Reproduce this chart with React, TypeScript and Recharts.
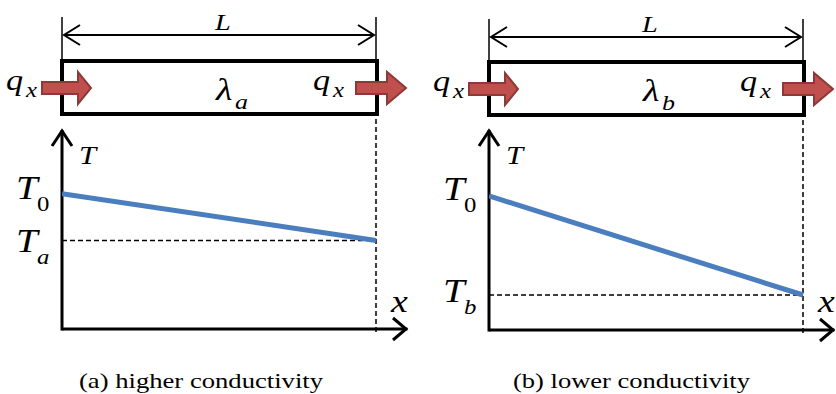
import React from 'react';
import { LineChart, Line, XAxis, YAxis, ReferenceLine } from 'recharts';

// x / L positions along the rod and the temperature at those points (arbitrary units)
const positions = [0, 1];
const tempHigh = [68, 44.5];
const tempLow = [67, 17.5];

const captions = ['(a) higher conductivity', '(b) lower conductivity'];
const captionWidths = [244, 237];
const lambdaSubs = ['a', 'b'];
const endSubs = ['a', 'b'];

const W = 836;
const H = 394;
const CHART_W = 420;
const PLOT_LEFT = 62;
const PLOT_TOP = 130;
const X_MAX = 1.1;
const Y_MAX = 100;

const serif = 'Liberation Serif, DejaVu Serif, serif';
const ARROW_FILL = '#C0504D';
const ARROW_EDGE = '#8C3A38';
const LINE_BLUE = '#4A7EBF';
const STRETCH = 1.18; // the source figure is a little wider than tall

const panels = [
  { ox: 0, oy: 0, axisY: 329, temps: tempHigh },
  { ox: 427, oy: 2, axisY: 330, temps: tempLow },
];

function PanelChart({ idx }: { idx: number }) {
  const p = panels[idx];
  const data = positions.map((x, i) => ({ x, T: p.temps[i] }));
  const plotW = 314 * X_MAX;
  const end = p.temps[p.temps.length - 1];
  return (
    <div style={{ position: 'absolute', left: p.ox, top: 0 }}>
      <LineChart
        width={CHART_W}
        height={H}
        data={data}
        margin={{ left: PLOT_LEFT, top: PLOT_TOP, right: CHART_W - PLOT_LEFT - plotW, bottom: H - p.axisY }}
      >
        <XAxis dataKey="x" type="number" domain={[0, X_MAX]} allowDataOverflow hide />
        <YAxis type="number" domain={[0, Y_MAX]} allowDataOverflow hide />
        {/* axes */}
        <ReferenceLine
          segment={[{ x: 0, y: 0 }, { x: X_MAX, y: 0 }]}
          stroke="#000"
          strokeWidth={3}
          ifOverflow="visible"
        />
        <ReferenceLine
          segment={[{ x: 0, y: -0.75 }, { x: 0, y: Y_MAX }]}
          stroke="#000"
          strokeWidth={3}
          ifOverflow="visible"
        />
        <ReferenceLine
          segment={[{ x: 0, y: end }, { x: 1, y: end }]}
          stroke="#000"
          strokeWidth={1.5}
          strokeDasharray="5 3"
          ifOverflow="visible"
        />
        <ReferenceLine
          segment={[{ x: 1, y: -1.5 }, { x: 1, y: 107 }]}
          stroke="#000"
          strokeWidth={1.5}
          strokeDasharray="5 3"
          ifOverflow="visible"
        />
        <Line
          type="linear"
          dataKey="T"
          stroke={LINE_BLUE}
          strokeWidth={5}
          dot={false}
          activeDot={false}
          isAnimationActive={false}
        />
      </LineChart>
    </div>
  );
}

function Txt({ x, y, size, italic = true, anchor = 'start', children }: {
  x: number; y: number; size: number; italic?: boolean; anchor?: string; children: React.ReactNode;
}) {
  return (
    <text
      transform={`translate(${x},${y}) scale(${STRETCH},1)`}
      fontFamily={serif}
      fontSize={size}
      fontStyle={italic ? 'italic' : 'normal'}
      textAnchor={anchor}
    >
      {children}
    </text>
  );
}

function BlockArrow({ x0, x1, tip, cy }: { x0: number; x1: number; tip: number; cy: number }) {
  const d = `M${x0},${cy - 6} L${x1},${cy - 6} L${x1},${cy - 16} L${tip},${cy} L${x1},${cy + 16} L${x1},${cy + 6} L${x0},${cy + 6} Z`;
  return <path d={d} fill={ARROW_FILL} stroke={ARROW_EDGE} strokeWidth={2} strokeLinejoin="miter" />;
}

function PanelDecor({ idx }: { idx: number }) {
  const p = panels[idx];
  const t = p.oy; // shift for the rod part
  const h = t / 2;
  const a = p.axisY;
  const endY = idx === 0 ? 252 : 302;
  return (
    <g transform={`translate(${p.ox},0)`} fill="#000">
      {/* dimension L */}
      <line x1={62} y1={17 + t} x2={62} y2={60} stroke="#000" strokeWidth={1.5} />
      <line x1={376} y1={17 + t} x2={376} y2={60} stroke="#000" strokeWidth={1.5} />
      <line x1={64} y1={35 + t} x2={374} y2={35 + t} stroke="#000" strokeWidth={2} />
      <polyline points={`80,${25 + t} 64,${35 + t} 80,${45 + t}`} fill="none" stroke="#000" strokeWidth={2} />
      <polyline points={`358,${25 + t} 374,${35 + t} 358,${45 + t}`} fill="none" stroke="#000" strokeWidth={2} />
      <Txt x={215} y={30 + t} size={24}>L</Txt>

      {/* rod */}
      <rect x={62} y={61 + h} width={315} height={53} fill="none" stroke="#000" strokeWidth={4} />
      <BlockArrow x0={42} x1={78} tip={91} cy={88 + h} />
      <BlockArrow x0={356} x1={387} tip={406} cy={88 + h} />
      <Txt x={6} y={90 + h} size={29}>q</Txt>
      <Txt x={26} y={97 + h} size={21}>x</Txt>
      <Txt x={313} y={90 + h} size={29}>q</Txt>
      <Txt x={333} y={97 + h} size={21}>x</Txt>
      <Txt x={216} y={100 + h} size={32}>λ</Txt>
      <Txt x={235} y={109 + h} size={22}>{lambdaSubs[idx]}</Txt>

      {/* axis arrow heads */}
      <polyline points={`52,146 62,131 72,146`} fill="none" stroke="#000" strokeWidth={3} />
      <polyline points={`393,${a - 11} 406,${a} 393,${a + 11}`} fill="none" stroke="#000" strokeWidth={3} />

      {/* axis labels */}
      <Txt x={79} y={164} size={26}>T</Txt>
      <Txt x={16} y={199 + (a - 329)} size={33}>T</Txt>
      <Txt x={37} y={211 + (a - 329)} size={21} italic={false}>0</Txt>
      <Txt x={16} y={endY} size={33}>T</Txt>
      <Txt x={37} y={endY + 12} size={21}>{endSubs[idx]}</Txt>
      <Txt x={391} y={312} size={32}>x</Txt>

      <text
        x={idx === 0 ? 79 : 86}
        y={388}
        fontFamily={serif}
        fontSize={22}
        textLength={captionWidths[idx]}
        lengthAdjust="spacingAndGlyphs"
      >
        {captions[idx]}
      </text>
    </g>
  );
}

export default function App() {
  return (
    <div style={{ position: 'absolute', left: 0, top: 0, width: W, height: H, background: '#fff', overflow: 'hidden' }}>
      <PanelChart idx={0} />
      <PanelChart idx={1} />
      <svg
        width={W}
        height={H}
        style={{ position: 'absolute', left: 0, top: 0, pointerEvents: 'none' }}
      >
        <PanelDecor idx={0} />
        <PanelDecor idx={1} />
      </svg>
    </div>
  );
}
